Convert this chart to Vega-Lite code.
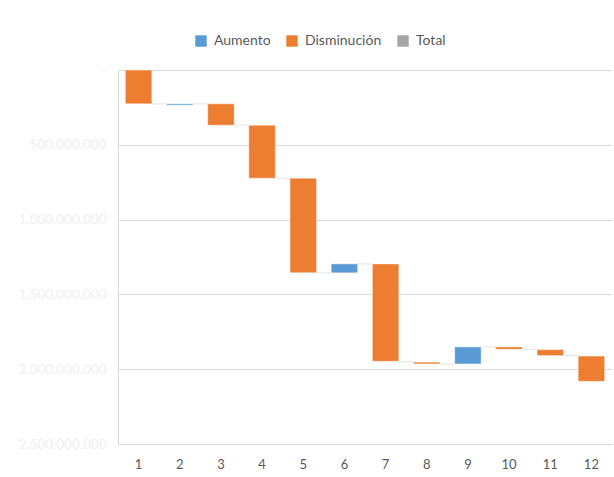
{
  "$schema": "https://vega.github.io/schema/vega-lite/v6.json",
  "width": 494,
  "height": 374,
  "autosize": {"type": "none"},
  "padding": {"left": 118, "top": 70, "right": 2, "bottom": 33},
  "background": "#ffffff",
  "config": {
    "view": {"stroke": null},
    "font": "Lato",
    "axis": {"ticks": false, "domainColor": "#d9d9d9", "gridColor": "#d9d9d9", "titleFontSize": 0}
  },
  "data": {
    "values": [
      {"cat": "1", "start": 0, "end": 226000000, "tipo": "Disminución", "conn": 226000000},
      {"cat": "2", "start": 226000000, "end": 235000000, "tipo": "Aumento", "conn": 226000000},
      {"cat": "3", "start": 226000000, "end": 369000000, "tipo": "Disminución", "conn": 369000000},
      {"cat": "4", "start": 369000000, "end": 723000000, "tipo": "Disminución", "conn": 723000000},
      {"cat": "5", "start": 723000000, "end": 1356000000, "tipo": "Disminución", "conn": 1356000000},
      {"cat": "6", "start": 1296000000, "end": 1356000000, "tipo": "Aumento", "conn": 1296000000},
      {"cat": "7", "start": 1296000000, "end": 1947000000, "tipo": "Disminución", "conn": 1950000000},
      {"cat": "8", "start": 1953000000, "end": 1965000000, "tipo": "Disminución", "conn": 1965000000},
      {"cat": "9", "start": 1851000000, "end": 1965000000, "tipo": "Aumento", "conn": 1851000000},
      {"cat": "10", "start": 1851000000, "end": 1867000000, "tipo": "Disminución", "conn": 1867000000},
      {"cat": "11", "start": 1869000000, "end": 1909000000, "tipo": "Disminución", "conn": 1909000000},
      {"cat": "12", "start": 1912000000, "end": 2081000000, "tipo": "Disminución", "conn": null}
    ]
  },
  "encoding": {
    "x": {
      "field": "cat",
      "type": "ordinal",
      "sort": null,
      "title": null,
      "scale": {"paddingInner": 0.356, "paddingOuter": 0.178},
      "axis": {"labelAngle": 0, "labelColor": "#595959", "labelFontSize": 13, "labelPadding": 14, "domain": true, "grid": false}
    }
  },
  "layer": [
    {
      "mark": {"type": "bar", "stroke": "#ffffff", "strokeOpacity": 0.45, "strokeWidth": 1},
      "encoding": {
        "y": {
          "field": "start",
          "type": "quantitative",
          "title": null,
          "scale": {"domain": [0, 2500000000], "reverse": true, "nice": false, "zero": false},
          "axis": {
            "values": [0, 500000000, 1000000000, 1500000000, 2000000000, 2500000000],
            "labelExpr": "datum.value == 0 ? '-' : replace(format(datum.value, ','), regexp(',', 'g'), '.')",
            "labelColor": "#f0f0f0",
            "labelFontSize": 13.5,
            "labelPadding": 12,
            "grid": true,
            "domain": true
          }
        },
        "y2": {"field": "end"},
        "color": {
          "field": "tipo",
          "type": "nominal",
          "scale": {"domain": ["Aumento", "Disminución", "Total"], "range": ["#5b9bd5", "#ed7d31", "#a5a5a5"]},
          "legend": {
            "title": null,
            "orient": "none",
            "direction": "horizontal",
            "legendX": 76,
            "legendY": -36,
            "symbolType": "square",
            "symbolSize": 130,
            "symbolStrokeWidth": 0,
            "labelFontSize": 14,
            "labelColor": "#595959",
            "labelOffset": 6,
            "columnPadding": 14
          }
        }
      }
    },
    {
      "transform": [{"filter": "datum.conn != null"}],
      "mark": {"type": "tick", "color": "#d9d9d9", "thickness": 1, "size": 16, "xOffset": 20.6, "orient": "horizontal"},
      "encoding": {
        "y": {"field": "conn", "type": "quantitative"}
      }
    }
  ]
}
